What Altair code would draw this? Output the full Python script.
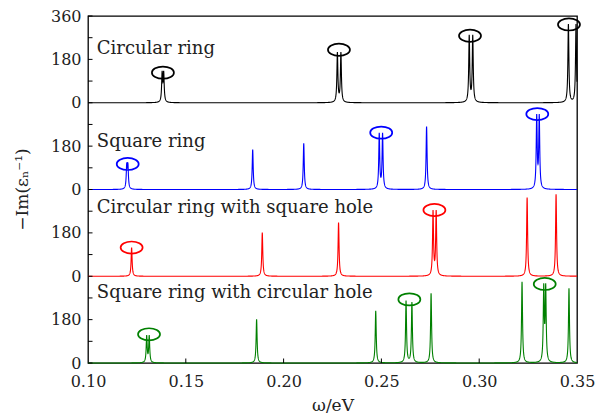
import altair as alt
import numpy as np
import pandas as pd

series = ["Circular ring", "Square ring",
          "Circular ring with square hole", "Square ring with circular hole"]
colors = ["#000000", "#0000ff", "#ff0000", "#008000"]
offsets = [1080, 720, 360, 0]

# peak positions (eV) and heights
peak_pos = [
    [0.1379, 0.1387, 0.2275, 0.2293, 0.2949, 0.2967, 0.3456, 0.3495],
    [0.1198, 0.1204, 0.1842, 0.2103, 0.2489, 0.2506, 0.2731, 0.3294, 0.3307],
    [0.1223, 0.1891, 0.2281, 0.2764, 0.2780, 0.3245, 0.3393],
    [0.1300, 0.1313, 0.1862, 0.2471, 0.2626, 0.2656, 0.2754, 0.3219, 0.3330, 0.3340, 0.3459],
]
peak_h = [
    [118, 118, 205, 205, 275, 275, 325, 325],
    [92, 92, 166, 192, 228, 228, 261, 298, 298],
    [119, 181, 223, 266, 266, 327, 340],
    [110, 110, 181, 216, 257, 250, 289, 337, 305, 305, 310],
]
gamma = 0.0003

# ellipse markers (x in eV, y in panel units)
ell_x = [[0.1383, 0.2283, 0.2953, 0.3459],
         [0.1203, 0.2499, 0.3297],
         [0.1223, 0.2771],
         [0.1312, 0.2643, 0.3335]]
ell_y = [[125, 220, 278, 325],
         [106, 236, 313],
         [119, 275],
         [119, 264, 328]]

label_x = [0.1045, 0.1045, 0.1045, 0.1045]
label_y = [224, 199, 282, 290]

y_tick_vals = list(range(0, 1441, 90))
x_tick_vals = [0.15, 0.20, 0.25, 0.30]

# build curves
base = np.arange(0.10, 0.35 + 1e-9, 0.0005)
rows = []
for s, pos, hs, off in zip(series, peak_pos, peak_h, offsets):
    xs = [base]
    for p in pos:
        xs.append(p + np.linspace(-0.004, 0.004, 161))
    xg = np.unique(np.clip(np.concatenate(xs), 0.10, 0.35))
    yv = np.zeros_like(xg)
    for p, h in zip(pos, hs):
        yv += h * gamma**2 / ((xg - p) ** 2 + gamma**2)
    for a, b in zip(xg, yv):
        rows.append({"x": float(a), "y": float(b + off), "s": s})
curve = pd.DataFrame(rows)

erows = []
for s, exs, eys, off in zip(series, ell_x, ell_y, offsets):
    for a, b in zip(exs, eys):
        erows.append({"x": a, "y": b + off, "s": s})
ell = pd.DataFrame(erows)

lab = pd.DataFrame({"x": label_x, "y": [v + o for v, o in zip(label_y, offsets)], "t": series})
yt = pd.DataFrame({"v": y_tick_vals})
xt = pd.DataFrame({"v": x_tick_vals})

FONT = "DejaVu Serif"
xscale = alt.Scale(domain=[0.10, 0.35], nice=False, zero=False)
yscale = alt.Scale(domain=[0, 1440], nice=False)
cscale = alt.Scale(domain=series, range=colors)

xaxis = alt.Axis(values=[0.10, 0.15, 0.20, 0.25, 0.30, 0.35], format=".2f", ticks=False,
                 domain=False, grid=False, labelFont=FONT, labelFontSize=16,
                 labelColor="#222", labelPadding=10, title="ω/eV", titleFont=FONT,
                 titleFontSize=17, titleFontWeight="normal", titleColor="#222",
                 titleY=42, titleBaseline="middle", labelFlush=False)
yaxis = alt.Axis(values=list(range(0, 1441, 180)),
                 labelExpr="datum.value == 1440 ? '360' : toString(datum.value % 360)",
                 ticks=False, domain=False, grid=False, labelFont=FONT, labelFontSize=16,
                 labelColor="#222", labelPadding=7, title="−Im(εₙ⁻¹)",
                 titleFont=FONT, titleFontSize=17, titleFontWeight="normal", titleColor="#222",
                 titleX=-66, titleY=173, titleAngle=-90, titleAlign="center",
                 titleBaseline="middle", labelFlush=False)

lines = alt.Chart(curve).mark_line(strokeWidth=1.1, interpolate="linear").encode(
    x=alt.X("x:Q", scale=xscale, axis=xaxis),
    y=alt.Y("y:Q", scale=yscale, axis=yaxis),
    color=alt.Color("s:N", scale=cscale, legend=None),
    detail="s:N",
    order="x:Q",
)

ell_path = "M -1 0 A 1 0.55 0 1 1 1 0 A 1 0.55 0 1 1 -1 0 Z"
ellipses = alt.Chart(ell).mark_point(shape=ell_path, size=484, filled=False,
                                     strokeWidth=1.7, opacity=1).encode(
    x=alt.X("x:Q", scale=xscale),
    y=alt.Y("y:Q", scale=yscale),
    color=alt.Color("s:N", scale=cscale, legend=None),
)

texts = alt.Chart(lab).mark_text(align="left", baseline="middle", font=FONT,
                                 fontSize=18, color="#222").encode(
    x=alt.X("x:Q", scale=xscale),
    y=alt.Y("y:Q", scale=yscale),
    text="t:N",
)

yticks = alt.Chart(yt).mark_rule(color="black", strokeWidth=1).encode(
    y=alt.Y("v:Q", scale=yscale), x=alt.value(0), x2=alt.value(4.5))
xticks = alt.Chart(xt).mark_rule(color="black", strokeWidth=1).encode(
    x=alt.X("v:Q", scale=xscale), y=alt.value(347), y2=alt.value(342.5))

chart = alt.layer(lines, ellipses, texts, yticks, xticks).properties(
    width=489, height=347, autosize="none",
    padding={"left": 80, "top": 8, "right": 20, "bottom": 52},
).configure_view(stroke="black", strokeWidth=1.3)

chart.save("out.html", embed_options={"renderer": "svg", "actions": False})
